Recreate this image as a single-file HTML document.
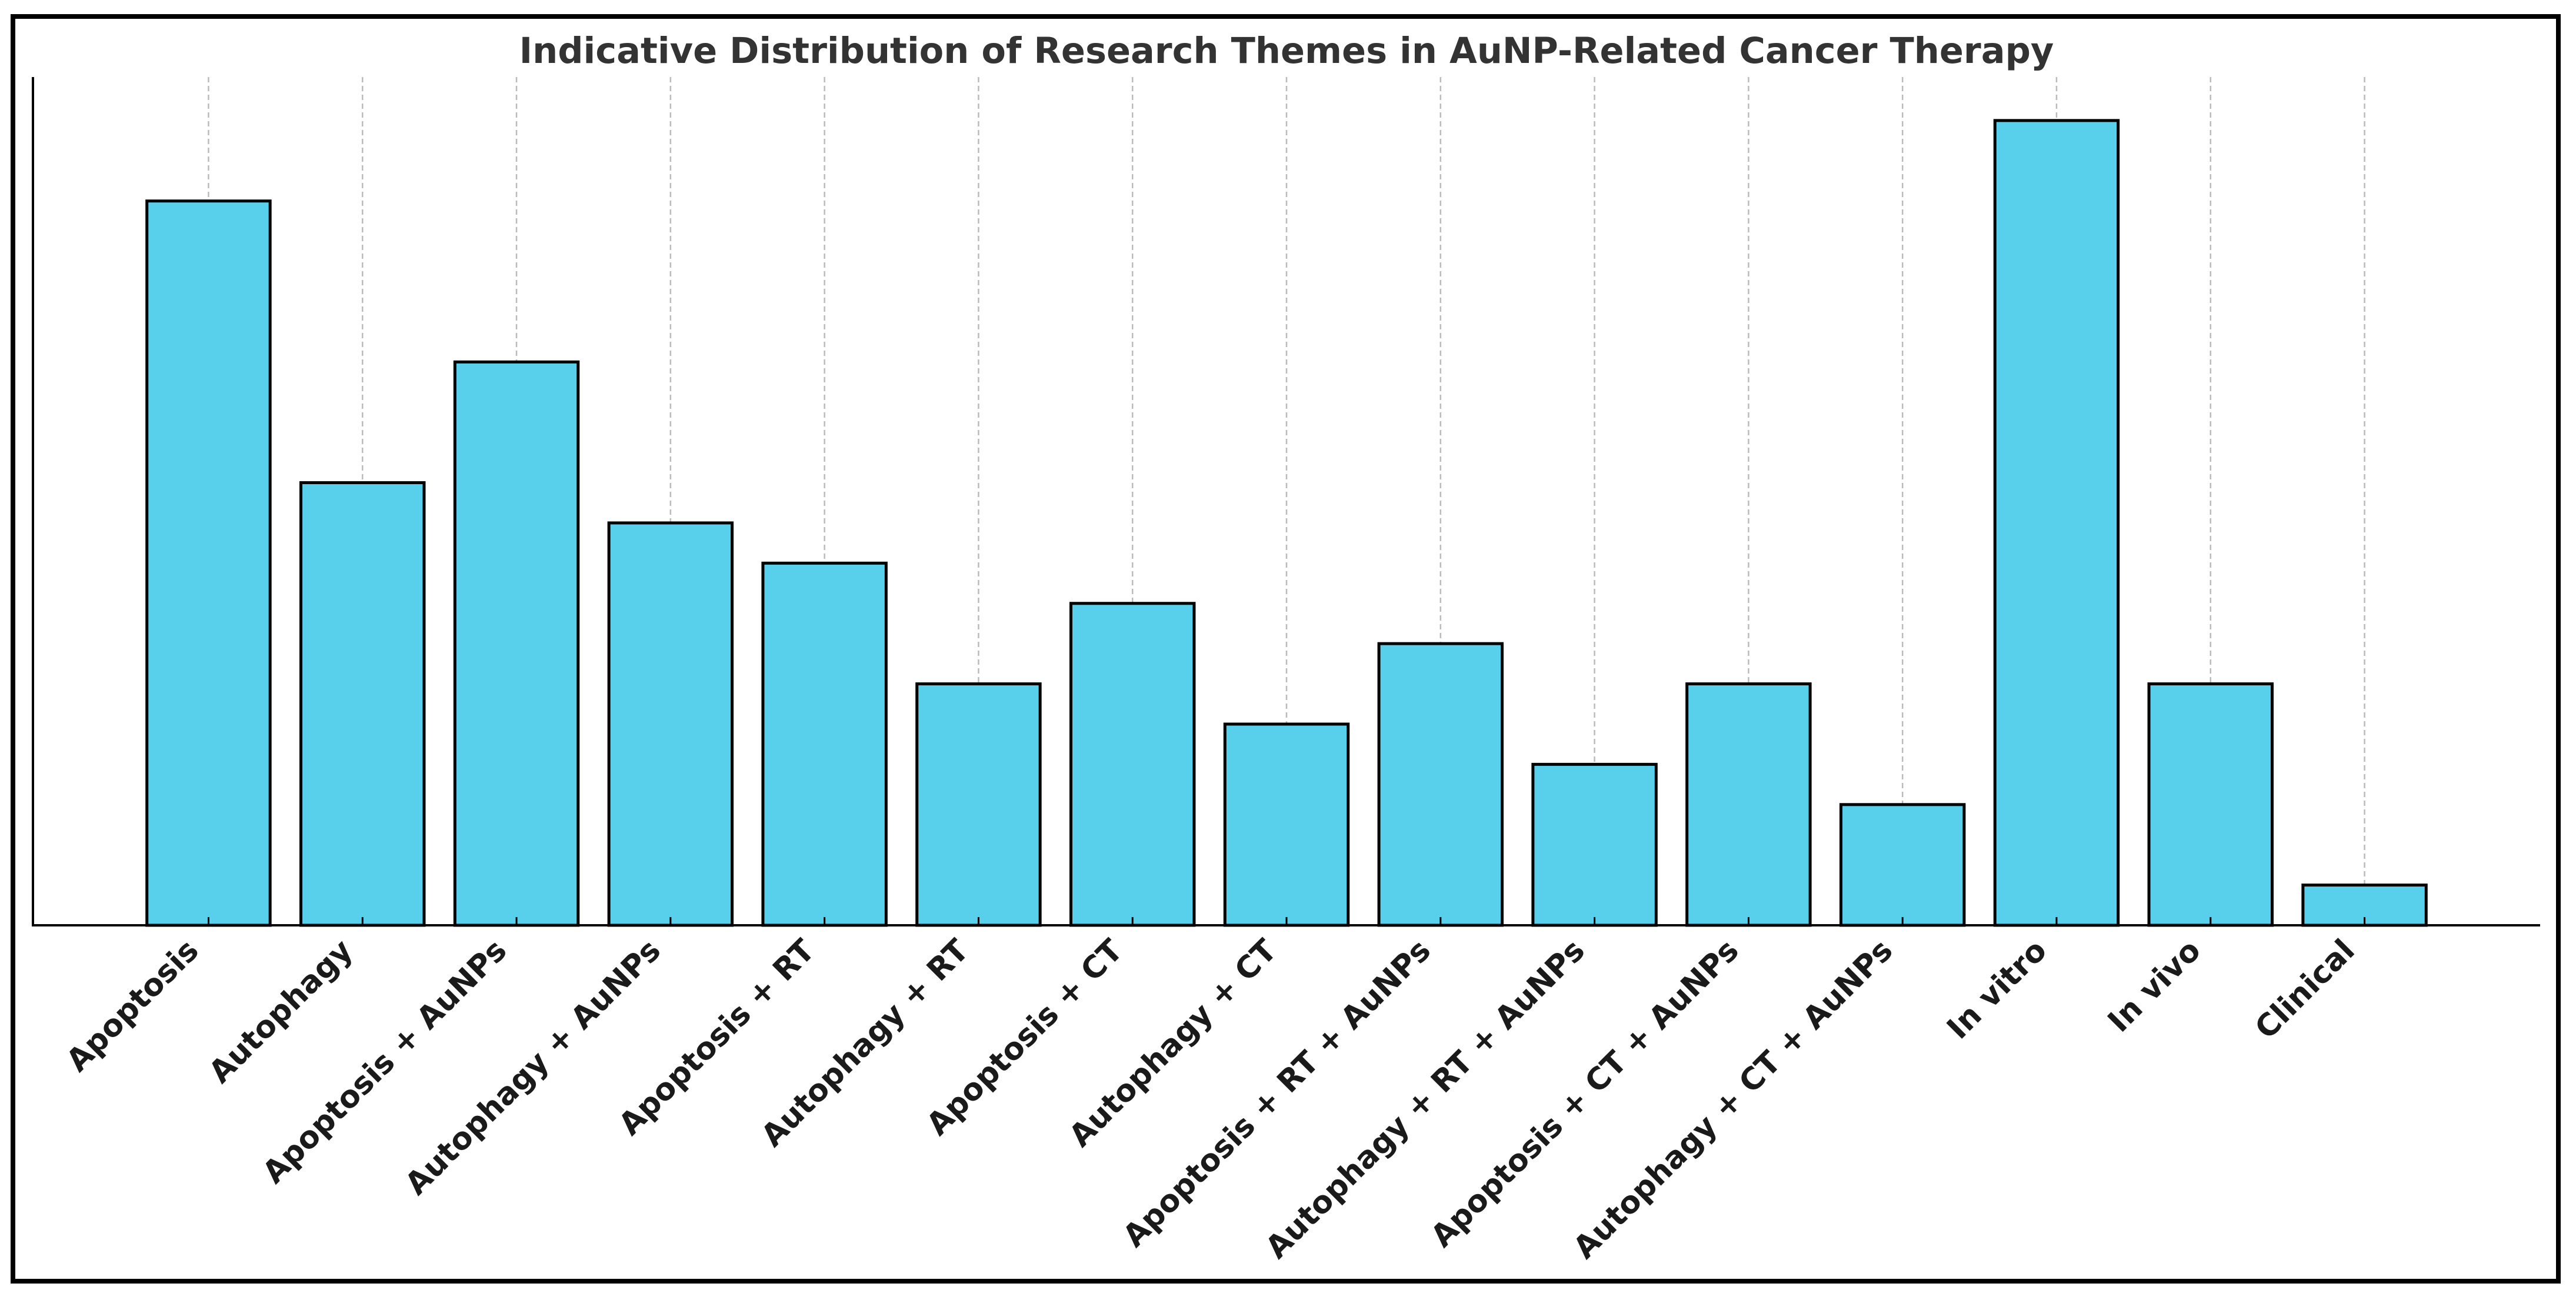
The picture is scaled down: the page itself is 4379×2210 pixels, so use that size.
<!DOCTYPE html>
<html><head><meta charset="utf-8"><style>
html,body{margin:0;padding:0;background:#fff}
svg{display:block}
</style></head><body>
<svg id="chart" width="4379" height="2210" xmlns="http://www.w3.org/2000/svg" font-family="'DejaVu Sans','Liberation Sans',sans-serif">
<rect x="22" y="28" width="4327" height="2150" fill="#fff" stroke="#000" stroke-width="8"/>
<text x="2187" y="107" text-anchor="middle" font-size="60.5" font-weight="bold" fill="#333">Indicative Distribution of Research Themes in AuNP-Related Cancer Therapy</text>
<g id="grid"></g><g id="bars"></g><g id="labels"></g>
<line x1="56" y1="131" x2="56" y2="1573" stroke="#000" stroke-width="4"/>
<line x1="54" y1="1573" x2="4318" y2="1573" stroke="#000" stroke-width="4"/>
</svg>
<script>
const categories = ["Apoptosis","Autophagy","Apoptosis + AuNPs","Autophagy + AuNPs","Apoptosis + RT","Autophagy + RT","Apoptosis + CT","Autophagy + CT","Apoptosis + RT + AuNPs","Autophagy + RT + AuNPs","Apoptosis + CT + AuNPs","Autophagy + CT + AuNPs","In vitro","In vivo","Clinical"];
const values = [18,11,14,10,9,6,8,5,7,4,6,3,20,6,1];

const NS="http://www.w3.org/2000/svg";
const axL=56,axR=4318,axT=131,axB=1573;
const n=categories.length;
const xmin=-0.4-(n-0.2)*0.05, xmax=n-1+0.4+(n-0.2)*0.05;
const ymax=Math.max(...values)*1.054;
const xs=v=>axL+(v-xmin)/(xmax-xmin)*(axR-axL);
const ys=v=>axB-v/ymax*(axB-axT);
const bw=0.8*(xs(1)-xs(0));
const grid=document.getElementById('grid'),bars=document.getElementById('bars'),labels=document.getElementById('labels');
function mk(t,a){const e=document.createElementNS(NS,t);for(const k in a)e.setAttribute(k,a[k]);return e;}
categories.forEach((c,i)=>{
  const cx=xs(i);
  const b=mk('rect',{x:cx-bw/2,y:ys(values[i]),width:bw,height:ys(0)-ys(values[i]),fill:'#58cfeb',stroke:'#000','stroke-width':5});
  
  
  bars.appendChild(b);
  const g=mk('line',{x1:cx,y1:axT,x2:cx,y2:axB,stroke:'#bbb','stroke-width':2.5,'stroke-dasharray':'9,6'});
  
  
  grid.appendChild(g);
  const tk=mk('line',{x1:cx,y1:axB,x2:cx,y2:axB-14,stroke:'#000','stroke-width':3});
  
  
  bars.appendChild(tk);
  const ax=cx-14, ay=axB+46;
  const t=mk('text',{x:ax,y:ay,'text-anchor':'end','font-size':52,'font-weight':'bold',fill:'#1a1a1a',transform:`rotate(-45 ${ax} ${ay})`});
  t.textContent=c;
  
  
  labels.appendChild(t);
});
</script>
</body></html>
